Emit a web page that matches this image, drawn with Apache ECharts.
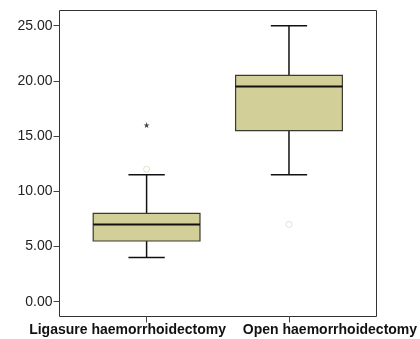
<!DOCTYPE html>
<html><head><meta charset="utf-8">
<script src="https://cdn.jsdelivr.net/npm/echarts@6/dist/echarts.min.js"></script>
<style>html,body{margin:0;padding:0;background:#fff}#c{width:420px;height:339px}</style>
</head><body><div id="c"></div>
<script>
var categories = ['Ligasure haemorrhoidectomy', 'Open haemorrhoidectomy'];
var whiskerLow = [4, 11.5];
var q1 = [5.5, 15.5];
var median = [7, 19.5];
var q3 = [8, 20.5];
var whiskerHigh = [11.5, 25];
var outliers = [[0, 12], [1, 7]];
var extremes = [[0, 16]];
var yTicks = [0, 5, 10, 15, 20, 25];

var boxData = categories.map(function (c, i) {
  return [i, whiskerLow[i], q1[i], median[i], q3[i], whiskerHigh[i]];
});

var labelFont = {color: '#111', fontFamily: 'Liberation Sans, Arial', fontWeight: 'bold', fontSize: 14};

var chart = echarts.init(document.getElementById('c'), null, {renderer: 'canvas'});
chart.setOption({
  animation: false,
  backgroundColor: '#ffffff',
  grid: [
    {left: 59.5, right: 43.5, top: 10.5, bottom: 22.5, show: true, borderColor: '#333', borderWidth: 1, backgroundColor: 'transparent'},
    {left: 75.4, width: 285.2, top: 10.5, bottom: 22.5},
    {left: 59.5, width: 100, top: 25.7, height: 276}
  ],
  xAxis: [
    {gridIndex: 0, type: 'value', show: false},
    {gridIndex: 1, type: 'category', data: [
        {value: categories[0], textStyle: {padding: [0, 38, 0, 0]}},
        {value: categories[1], textStyle: {padding: [0, 0, 0, 82]}}
      ],
     axisLine: {show: false, onZero: false},
     axisTick: {show: true, alignWithLabel: true, length: 6, lineStyle: {color: '#444', width: 1}},
     axisLabel: Object.assign({margin: 7, interval: 0, hideOverlap: false}, labelFont),
     splitLine: {show: false}},
    {gridIndex: 2, type: 'value', show: false}
  ],
  yAxis: [
    {gridIndex: 0, type: 'value', show: false},
    {gridIndex: 1, type: 'value', min: -1.34, max: 26.38, show: false},
    {gridIndex: 2, type: 'value', min: yTicks[0], max: yTicks[yTicks.length - 1], interval: 5,
     axisLine: {show: false, onZero: false},
     axisTick: {show: true, length: 6, lineStyle: {color: '#444', width: 1}},
     axisLabel: {margin: 7, color: '#222', fontFamily: 'Liberation Sans, Arial', fontSize: 14,
       formatter: function (v) { return v.toFixed(2); }},
     splitLine: {show: false}}
  ],
  series: [
    {
      type: 'custom', xAxisIndex: 1, yAxisIndex: 1,
      data: boxData,
      encode: {x: 0, y: [1, 2, 3, 4, 5]},
      renderItem: function (params, api) {
        var idx = api.value(0);
        var band = api.size([1, 0])[0];
        var bw = band * 0.75, cw = band * 0.255;
        var pLow = api.coord([idx, api.value(1)]);
        var pQ1 = api.coord([idx, api.value(2)]);
        var pMed = api.coord([idx, api.value(3)]);
        var pQ3 = api.coord([idx, api.value(4)]);
        var pHigh = api.coord([idx, api.value(5)]);
        var cx = pMed[0];
        var wStyle = {stroke: '#111', lineWidth: 1.5};
        return {
          type: 'group',
          children: [
            {type: 'line', shape: {x1: cx, y1: pHigh[1], x2: cx, y2: pQ3[1]}, style: wStyle},
            {type: 'line', shape: {x1: cx, y1: pQ1[1], x2: cx, y2: pLow[1]}, style: wStyle},
            {type: 'line', shape: {x1: cx - cw / 2, y1: pHigh[1], x2: cx + cw / 2, y2: pHigh[1]}, style: wStyle},
            {type: 'line', shape: {x1: cx - cw / 2, y1: pLow[1], x2: cx + cw / 2, y2: pLow[1]}, style: wStyle},
            {type: 'rect', shape: {x: cx - bw / 2, y: pQ3[1], width: bw, height: pQ1[1] - pQ3[1]},
             style: {fill: '#d3cf98', stroke: '#3a3a30', lineWidth: 1.2}},
            {type: 'line', shape: {x1: cx - bw / 2, y1: pMed[1], x2: cx + bw / 2, y2: pMed[1]},
             style: {stroke: '#111', lineWidth: 2}}
          ]
        };
      }
    },
    {
      type: 'scatter', xAxisIndex: 1, yAxisIndex: 1, data: outliers,
      symbol: 'circle', symbolSize: 6,
      itemStyle: {color: '#ffffff', borderColor: '#dedbbb', borderWidth: 1}
    },
    {
      type: 'scatter', xAxisIndex: 1, yAxisIndex: 1, data: extremes,
      symbol: 'path://M50,0 L61,35 L98,35 L68,57 L79,91 L50,70 L21,91 L32,57 L2,35 L39,35 Z',
      symbolSize: 6,
      itemStyle: {color: '#111'}
    }
  ]
});
</script>
</body></html>
